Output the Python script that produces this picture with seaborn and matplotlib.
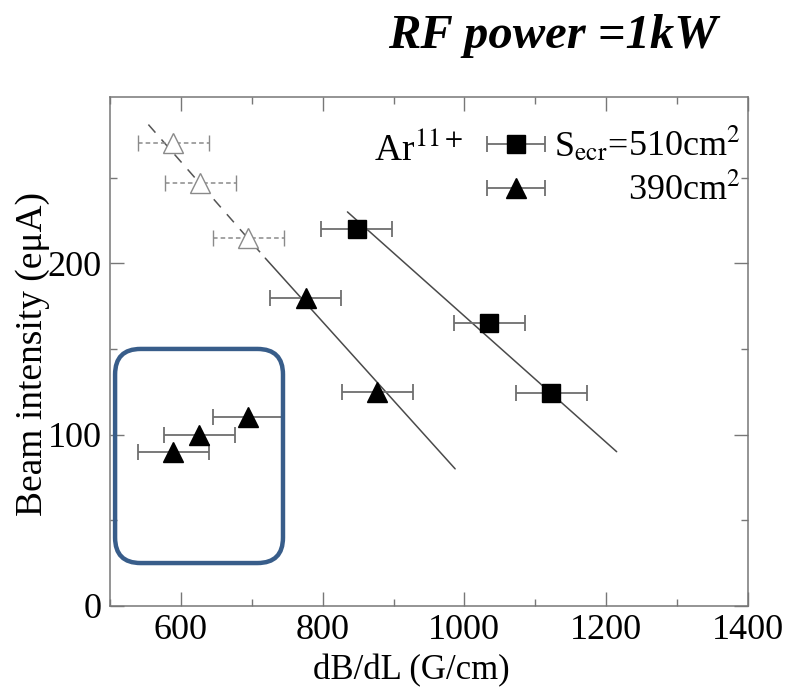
import matplotlib
matplotlib.use("Agg")
import matplotlib.pyplot as plt
from matplotlib.patches import FancyBboxPatch
from matplotlib.ticker import MultipleLocator
from matplotlib.container import ErrorbarContainer
from matplotlib.legend_handler import HandlerErrorbar
import seaborn as sns

# Ar11+ beam intensity vs. magnetic field gradient at the ECR zone
sq_x = [848, 1035, 1123]          # S_ecr = 510 cm^2
sq_y = [220, 165, 124]
tri_x = [776, 877]                # S_ecr = 390 cm^2
tri_y = [180, 125]
tri_low_x = [589, 626, 695]       # 390 cm^2, low-intensity branch
tri_low_y = [90, 100, 110]
open_x = [589, 627, 695]          # 390 cm^2, extrapolated
open_y = [270, 247, 215]
grad_err = 50                     # G/cm

# linear trends
sq_fit_x = [835, 1215]
sq_fit_y = [230, 90]
tri_fit_x = [719, 987]
tri_fit_y = [203, 80]
tri_ext_x = [554, 719]
tri_ext_y = [281, 203]

# highlighted region (G/cm, eμA)
box_x = [507, 744]
box_y = [25, 150]

sns.set_theme(style="ticks")
plt.rcParams["font.family"] = ["Liberation Serif", "DejaVu Serif"]
plt.rcParams["mathtext.fontset"] = "stix"
plt.rcParams.update({"text.color": "black", "axes.labelcolor": "black",
                     "xtick.labelcolor": "black", "ytick.labelcolor": "black"})

fig = plt.figure(figsize=(7.98, 6.94), dpi=100)
ax = fig.add_axes([0.138, 0.127, 0.799, 0.733])

line_c = "#4a4a4a"
err_c = "#6e6e6e"

sns.lineplot(x=sq_fit_x, y=sq_fit_y, ax=ax, color=line_c, lw=1.1, zorder=1)
sns.lineplot(x=tri_fit_x, y=tri_fit_y, ax=ax, color=line_c, lw=1.1, zorder=1)
sns.lineplot(x=tri_ext_x, y=tri_ext_y, ax=ax, color="#555555", lw=1.1, zorder=1)
ax.lines[-1].set_dashes([7, 6])

common = dict(xerr=grad_err, ecolor=err_c, elinewidth=1.3, capsize=6,
              capthick=1.3, linestyle="none")

h_sq = ax.errorbar(sq_x, sq_y, fmt="s", ms=13.5, mfc="black", mec="black",
                   zorder=3, **common)
h_tri = ax.errorbar(tri_x, tri_y, fmt="^", ms=14, mfc="black", mec="black",
                    zorder=3, **common)
ax.errorbar(tri_low_x, tri_low_y, fmt="^", ms=14, mfc="black", mec="black",
            zorder=3, **common)
eb_open = ax.errorbar(open_x, open_y, fmt="^", ms=14, mfc="white",
                      mec="#8a8a8a", mew=1.0, zorder=3,
                      xerr=grad_err, ecolor="#8a8a8a", elinewidth=1.1,
                      capsize=6, capthick=1.1, linestyle="none")
for coll in eb_open[2]:
    coll.set_linestyle((0, (3, 2)))

ax.set_xlim(500, 1400)
ax.set_ylim(0, 297)

# rounded highlight box; corner rounding kept circular on screen
pos = ax.get_position()
px_per_x = pos.width * 798 / 900
px_per_y = pos.height * 694 / 297
box = FancyBboxPatch((box_x[0], box_y[0]), box_x[1] - box_x[0], box_y[1] - box_y[0],
                     boxstyle="round,pad=0,rounding_size=36",
                     mutation_aspect=px_per_x / px_per_y,
                     fc="none", ec="#385d8a", lw=3.2, zorder=4,
                     transform=ax.transData)
ax.add_patch(box)

ax.xaxis.set_major_locator(MultipleLocator(200))
ax.xaxis.set_minor_locator(MultipleLocator(100))
ax.yaxis.set_major_locator(MultipleLocator(100))
ax.yaxis.set_minor_locator(MultipleLocator(50))
ax.tick_params(which="both", direction="in", top=True, right=True,
               color="#777777", labelsize=26, pad=6)
ax.tick_params(which="major", length=10, width=1.0)
ax.tick_params(which="minor", length=5, width=1.0)
for s in ax.spines.values():
    s.set_color("#777777")
    s.set_linewidth(1.1)

ax.set_xlabel("dB/dL (G/cm)", fontsize=25)
ax.set_ylabel("Beam intensity (eμA)", fontsize=27)
ax.xaxis.set_label_coords(0.472, -0.094)
ax.yaxis.set_label_coords(-0.094, 0.495)

ax.text(0.553, 0.895, r"Ar$^{11+}$", transform=ax.transAxes, ha="right",
        va="center", fontsize=27)
leg = ax.legend([h_sq, h_tri], [r"510cm$^2$", r"390cm$^2$"],
                loc="upper right", bbox_to_anchor=(1.029, 0.985), frameon=False,
                fontsize=26, handlelength=2.2, handletextpad=2.0,
                labelspacing=0.27, borderpad=0.2,
                handler_map={ErrorbarContainer: HandlerErrorbar(xerr_size=0.8)})

fig.canvas.draw()
bb = leg.get_texts()[0].get_window_extent()
ax.annotate(r"S$_{\rm ecr}$=", xy=(bb.x0 - 1, (bb.y0 + bb.y1) / 2),
            xycoords="figure pixels", ha="right", va="center", fontsize=26)

fig.text(0.693, 0.948, "RF power =1kW", fontsize=35, fontweight="bold",
         fontstyle="italic", ha="center", va="center")

fig.savefig("out.png", dpi=100)
